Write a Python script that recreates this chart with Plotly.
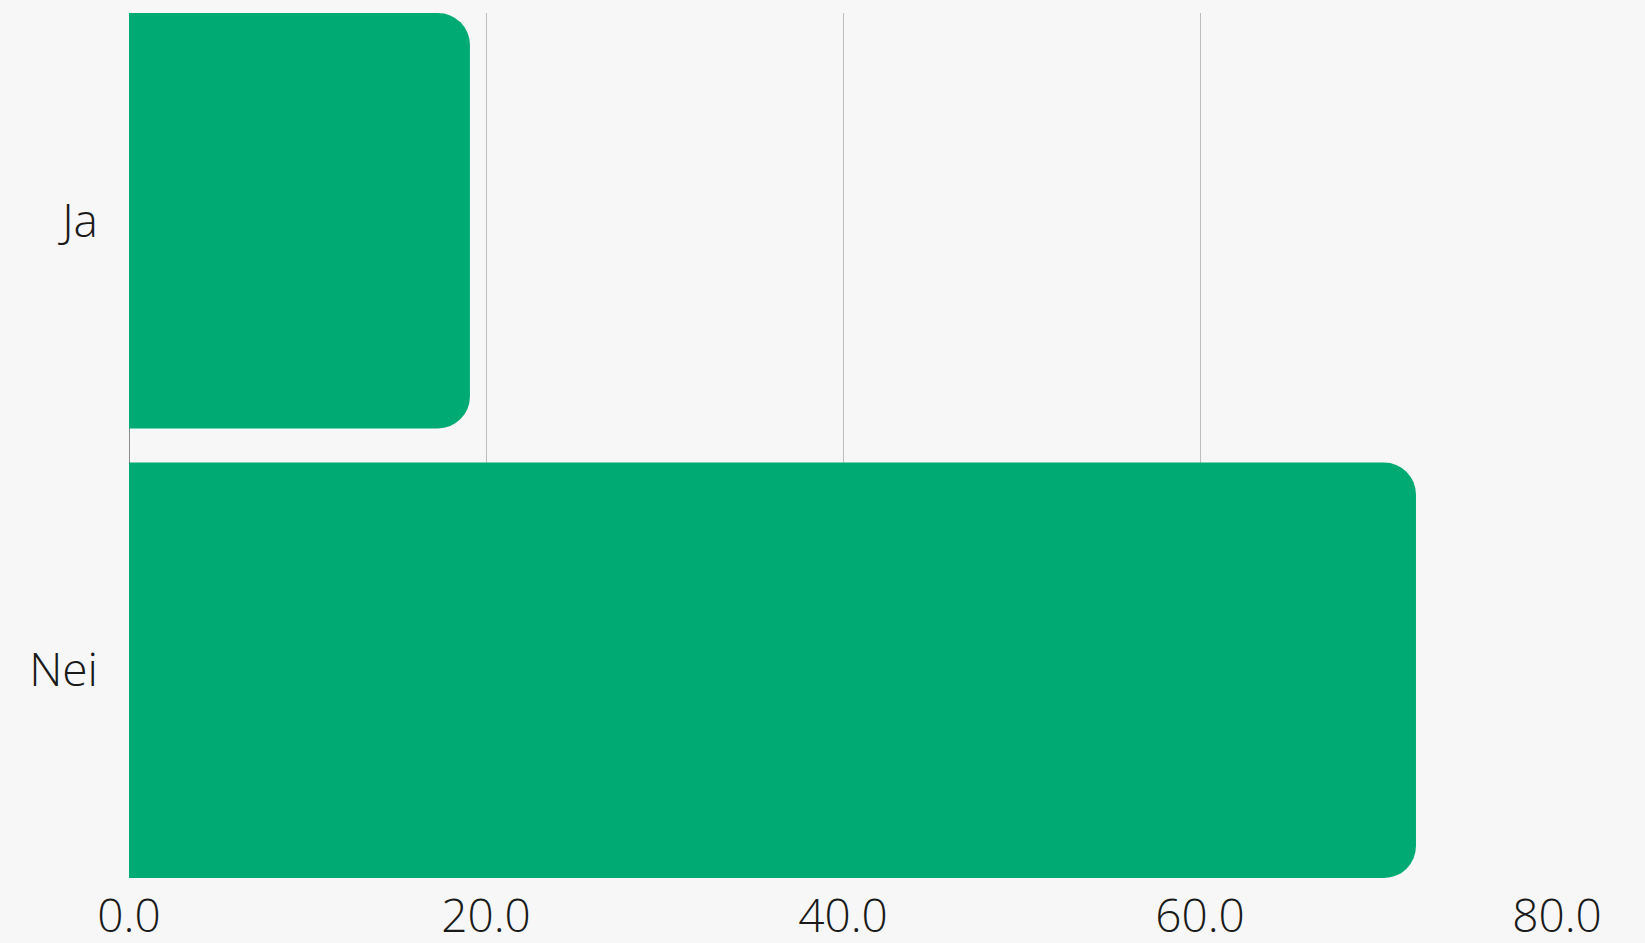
import plotly.graph_objects as go

categories = ["Ja", "Nei"]
values = [19.1, 72.1]
x_ticks = [0, 20, 40, 60, 80]
x_tick_labels = ["0.0", "20.0", "40.0", "60.0", "80.0"]

BAR_COLOR = "#00AA73"
BG = "#F7F7F7"
FONT = dict(family="Open Sans, sans-serif", size=46, color="#1a1a1a", weight=300)

BARGAP = 0.0757
w = 1 - BARGAP

fig = go.Figure(
    go.Bar(
        y=categories,
        x=values,
        orientation="h",
        marker=dict(color=BAR_COLOR, cornerradius=32, line=dict(width=0)),
        hoverinfo="x+y",
    )
)

fig.update_layout(
    width=1645,
    height=943,
    margin=dict(l=129, r=88, t=13, b=65),
    paper_bgcolor=BG,
    plot_bgcolor=BG,
    bargap=BARGAP,
    showlegend=False,
    font=FONT,
)

fig.update_xaxes(
    range=[0, 80],
    tickmode="array",
    tickvals=x_ticks,
    ticktext=x_tick_labels,
    showgrid=True,
    gridcolor="#BDBDBD",
    gridwidth=1,
    zeroline=True,
    zerolinecolor="#8C8C8C",
    zerolinewidth=1,
    showline=False,
    ticks="",
    ticklabelstandoff=7,
    automargin=False,
    tickfont=FONT,
)

fig.update_yaxes(
    range=[len(categories) - 1 + w / 2, -w / 2],
    showgrid=False,
    zeroline=False,
    showline=False,
    ticks="",
    ticklabelstandoff=30,
    automargin=False,
    tickfont=FONT,
)

fig.write_html(
    "out.html",
    config={"displayModeBar": False},
    post_script="document.body.style.margin='0';document.body.style.background='#F7F7F7';",
)
